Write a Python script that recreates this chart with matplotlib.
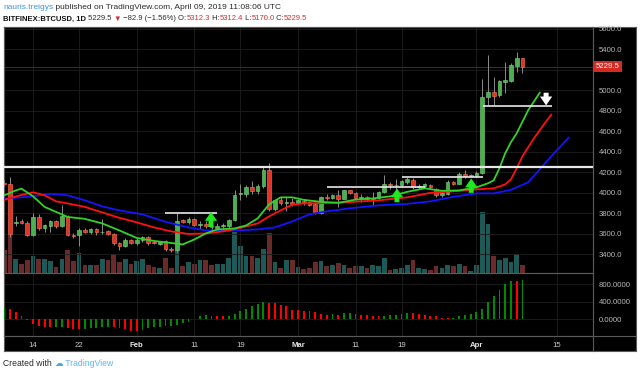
import numpy as np
import matplotlib.pyplot as plt
from matplotlib.lines import Line2D

plt.rcParams['font.family'] = ['Liberation Sans', 'DejaVu Sans']

# daily candles, day 0 = Jan 9 2019 ... day 90 = Apr 9 2019
opens = [4092, 4084, 3708, 3722, 3707, 3589, 3760, 3651, 3670, 3722,
         3673, 3762, 3589, 3583, 3638, 3620, 3648, 3612, 3630, 3600,
         3508, 3475, 3535, 3508, 3534, 3566, 3517, 3500, 3525, 3449,
         3436, 3730, 3713, 3746, 3680, 3697, 3674, 3660, 3672, 3676,
         3729, 3985, 3983, 4055, 4013, 4062, 4218, 3837, 3925, 3902,
         3909, 3899, 3918, 3908, 3892, 3800, 3957, 3951, 3974, 3941,
         4022, 4000, 3947, 3955, 3940, 3951, 4006, 4088, 4071, 4078,
         4104, 4127, 4055, 4062, 4071, 4039, 3974, 3990, 4104, 4088,
         4180, 4166, 4162, 4196, 4929, 4983, 4951, 5081, 5088, 5234,
         5312.3]
highs = [4120, 4150, 3775, 3740, 3720, 3805, 3790, 3697, 3730, 3735,
         3880, 3780, 3610, 3660, 3660, 3660, 3660, 3746, 3640, 3610,
         3520, 3560, 3550, 3560, 3580, 3575, 3530, 3530, 3535, 3465,
         3805, 3745, 3760, 3755, 3720, 3720, 3690, 3700, 3700, 3745,
         4030, 4088, 4070, 4110, 4080, 4258, 4290, 3940, 3960, 3960,
         3950, 3940, 3935, 3920, 3910, 3965, 3990, 3990, 4022, 4030,
         4030, 4010, 3985, 3965, 4010, 4020, 4169, 4100, 4130, 4125,
         4150, 4140, 4085, 4095, 4085, 4050, 4010, 4120, 4115, 4200,
         4225, 4185, 4215, 5107, 5342, 5124, 5100, 5276, 5260, 5374,
         5312.4]
lows = [4060, 3570, 3670, 3690, 3575, 3580, 3640, 3615, 3615, 3660,
        3665, 3575, 3560, 3475, 3605, 3600, 3590, 3600, 3590, 3490,
        3436, 3465, 3495, 3490, 3520, 3490, 3495, 3490, 3430, 3425,
        3425, 3700, 3690, 3670, 3650, 3660, 3640, 3650, 3660, 3660,
        3720, 3925, 3960, 3990, 3990, 4050, 3820, 3820, 3880, 3820,
        3870, 3885, 3880, 3870, 3790, 3790, 3930, 3935, 3859, 3935,
        3985, 3930, 3910, 3920, 3880, 3940, 3995, 4040, 4030, 4060,
        4080, 4040, 4040, 4050, 4040, 3960, 3955, 3980, 4075, 4080,
        4140, 4150, 4150, 4185, 4853, 4853, 4935, 4968, 5080, 5180,
        5170.0]
closes = [4084, 3592, 3716, 3705, 3589, 3758, 3658, 3680, 3722, 3671,
          3773, 3589, 3576, 3638, 3619, 3648, 3612, 3620, 3600, 3508,
          3475, 3535, 3508, 3542, 3566, 3508, 3508, 3520, 3449, 3436,
          3722, 3713, 3746, 3680, 3697, 3674, 3662, 3672, 3684, 3736,
          3980, 3992, 4055, 4016, 4065, 4218, 3837, 3925, 3902, 3905,
          3890, 3925, 3905, 3883, 3805, 3957, 3950, 3974, 3941, 4022,
          4000, 3947, 3955, 3940, 3945, 4006, 4088, 4071, 4075, 4110,
          4137, 4055, 4062, 4081, 4055, 3974, 3996, 4104, 4088, 4186,
          4166, 4172, 4196, 4929, 4983, 4944, 5088, 5097, 5244, 5318,
          5229.5]
# volume, thousand BTC
volume = [22, 38, 13.7, 8.7, 12.7, 16, 13.7, 13.7, 11, 5,
          13.7, 22, 11, 19.3, 7.7, 7.7, 7, 13.7, 12, 18.7,
          10.3, 13, 8.7, 11, 13, 7.7, 5, 4.3, 14.3, 4.7,
          22, 6, 10.3, 8.7, 12, 12, 7, 8, 8, 14.7,
          40.3, 26.3, 16, 16, 14.7, 23, 39.3, 10.3, 4.7, 12,
          12, 5.3, 3.7, 4.7, 10.3, 11, 6, 7, 9.3, 7,
          4.7, 6, 6.3, 4.7, 7, 6, 14.3, 2, 3, 4.7,
          7.7, 12, 4.3, 3.7, 2, 6, 4.3, 7.7, 6, 8.7,
          6, 1, 7, 60.3, 48.7, 16, 12, 14.7, 10.3, 18.7,
          7.7]
# awesome oscillator
ao = [254, 231, 162, 77, -8, -108, -154, -169, -185, -177,
      -169, -193, -216, -231, -223, -208, -193, -185, -177, -185,
      -208, -231, -262, -270, -246, -208, -185, -177, -162, -146,
      -123, -92, -54, 8, 62, 85, 77, 70, 62, 77,
      123, 177, 231, 293, 347, 385, 380, 370, 331, 308,
      216, 200, 192, 177, 162, 115, 100, 115, 100, 139,
      146, 123, 100, 85, 77, 62, 69, 85, 100, 115,
      139, 131, 115, 100, 77, 62, 38, 31, 38, 62,
      85, 115, 154, 239, 385, 524, 662, 816, 886, 880,
      909]

# alligator lines (day, price)
lips_days = [0, 2, 3, 5, 7, 9, 11, 14, 17, 20, 23, 26, 29, 31, 33, 35, 37, 40, 42,
             44, 46, 48, 50, 52, 55, 58, 61, 64, 67, 70, 73, 76, 79, 82, 84, 85,
             86, 87, 88, 89, 91, 93]
lips = [3974, 4022, 4039, 3964, 3861, 3812, 3763, 3744, 3700, 3631, 3558, 3529,
        3509, 3495, 3543, 3602, 3641, 3651, 3680, 3749, 3886, 3954, 3954, 3930,
        3910, 3900, 3932, 3944, 3964, 4008, 4042, 4018, 4022, 4052, 4091, 4120,
        4238, 4384, 4492, 4580, 4805, 4975]
teeth_days = [0, 3, 5, 7, 9, 11, 14, 17, 20, 23, 26, 29, 32, 35, 38, 41, 44, 46,
              48, 50, 52, 55, 60, 65, 70, 74, 78, 82, 85, 87, 88, 89, 90, 92, 94, 95]
teeth = [3930, 3978, 4003, 3974, 3915, 3895, 3861, 3807, 3754, 3710, 3661, 3622,
         3597, 3602, 3622, 3656, 3700, 3768, 3827, 3881, 3895, 3898, 3908, 3925,
         3954, 3998, 4013, 4032, 4042, 4081, 4130, 4238, 4355, 4531, 4687, 4760]
jaw_days = [0, 4, 8, 11, 14, 17, 20, 24, 28, 32, 35, 40, 44, 47, 50, 53, 56, 60,
            65, 70, 74, 78, 82, 85, 88, 91, 93, 95, 98]
jaw = [3941, 3959, 3988, 3974, 3925, 3866, 3827, 3788, 3715, 3661, 3631, 3631,
       3641, 3661, 3719, 3788, 3817, 3847, 3876, 3891, 3915, 3959, 3993, 3993,
       4027, 4101, 4228, 4355, 4536]

date_ticks = [5, 13, 23, 33, 41, 51, 61, 69, 82, 96]
date_labels = ['14', '22', 'Feb', '11', '19', 'Mar', '11', '19', 'Apr', '15']
price_ticks = list(range(3400, 5601, 200))
ao_ticks = [0, 400, 800]
last_price = 5229.5

# drawn levels (start day, end day, price) and arrows (day, tail, head)
levels = [(0, 102.3, 4255), (27.9, 36.9, 3804), (56.1, 73.1, 4052),
          (69.0, 83.1, 4152), (83.1, 95.2, 4844)]
up_arrows = [(35.9, 3664, 3812), (68.2, 3906, 4041), (81.1, 3998, 4139)]
down_arrows = [(94.1, 4975, 4851)]

W, H = 640, 374
fig = plt.figure(figsize=(W / 100, H / 100), dpi=100, facecolor='white')

def rect(x0, y0, x1, y1):
    return [x0 / W, 1 - y1 / H, (x1 - x0) / W, (y1 - y0) / H]

bg = fig.add_axes(rect(4, 27, 636, 351))
bg.set_facecolor('black')
bg.set_xticks([])
bg.set_yticks([])
for s in bg.spines.values():
    s.set_color('#5a5a5a')
    s.set_linewidth(0.8)

days = np.arange(len(closes))
o = np.array(opens)
c = np.array(closes)
up = c >= o

ax_v = fig.add_axes(rect(4, 27, 593.3, 272.5))
ax = fig.add_axes(rect(4, 27, 593.3, 272.5), sharex=ax_v)
ax_ao = fig.add_axes(rect(4, 272.5, 593.3, 335.5), sharex=ax_v)
ax_v.set_zorder(1)
ax.set_zorder(2)
ax_ao.set_zorder(2)
ax_v.axis('off')
ax.patch.set_alpha(0)
ax_ao.patch.set_alpha(0)

# volume
ax_v.bar(days, volume, width=0.82, color=np.where(up, '#1d5a57', '#6a2a2a'))
ax_v.set_ylim(0, 245)

# candles
ax.vlines(days, lows, highs, color='#8c8c8c', lw=0.7, zorder=3)
body = np.maximum(np.abs(c - o), 7)
ax.bar(days, body, bottom=np.minimum(o, c), width=0.64,
       color=np.where(up, '#4caf50', '#e0342a'),
       edgecolor=np.where(up, '#7ad87a', '#ff7a50'), lw=0.4, zorder=4)

ax.axhline(last_price, color='#7a1616', lw=0.7, zorder=2)

ax.plot(jaw_days, jaw, color='#1414ff', lw=1.3, zorder=5)
ax.plot(teeth_days, teeth, color='#ff1010', lw=1.3, zorder=5)
ax.plot(lips_days, lips, color='#32d226', lw=1.3, zorder=5)

for i, (d0, d1, p) in enumerate(levels):
    ax.plot([d0, d1], [p, p], color='#e8e8e8', lw=1.6 if i == 0 else 1.2,
            zorder=6, solid_capstyle='butt')

arrow_style = 'simple,head_length=0.8,head_width=1.1,tail_width=0.45'
for d, tail, head in up_arrows:
    ax.annotate('', xy=(d, head), xytext=(d, tail), zorder=7,
                arrowprops=dict(arrowstyle=arrow_style, fc='#1ee81e', ec='none',
                                shrinkA=0, shrinkB=0, mutation_scale=8))
for d, tail, head in down_arrows:
    ax.annotate('', xy=(d, head), xytext=(d, tail), zorder=7,
                arrowprops=dict(arrowstyle=arrow_style, fc='white', ec='none',
                                shrinkA=0, shrinkB=0, mutation_scale=8))

ax.set_ylim(3221, 5616)
ax.set_xlim(-0.05, 102.3)
ax.yaxis.tick_right()
ax.set_yticks(price_ticks)
# the 5200 label sits under the last-price box
ax.set_yticklabels(['' if abs(p - last_price) < 60 else f'{p:.1f}' for p in price_ticks])
ax.set_xticks(date_ticks)
ax.tick_params(axis='x', labelbottom=False, length=0)
ax.tick_params(axis='y', length=0, pad=4, labelsize=5.6, labelcolor='#b8b8b8')
ax.grid(color='#1f1f1f', lw=0.6)
ax.set_axisbelow(True)

ax.text(1.004, last_price, f'{last_price:.1f}', transform=ax.get_yaxis_transform(),
        color='white', fontsize=5.6, va='center', ha='left', zorder=10, clip_on=False,
        bbox=dict(boxstyle='square,pad=0.28', fc='#d42a22', ec='none'))

# awesome oscillator
ao_arr = np.array(ao)
rising = np.r_[True, ao_arr[1:] >= ao_arr[:-1]]
ax_ao.bar(days, ao, width=0.32, color=np.where(rising, '#008a00', '#ff0000'), zorder=3)
ax_ao.set_ylim(-374, 1070)
ax_ao.yaxis.tick_right()
ax_ao.set_yticks(ao_ticks)
ax_ao.set_yticklabels([f'{v:.4f}' for v in ao_ticks])
ax_ao.set_xticks(date_ticks)
ax_ao.set_xticklabels(date_labels)
ax_ao.tick_params(axis='y', length=0, pad=4, labelsize=5.6, labelcolor='#b8b8b8')
ax_ao.tick_params(axis='x', length=0, pad=5, labelsize=5.6, labelcolor='#c8c8c8')
for lbl in ax_ao.get_xticklabels():
    if lbl.get_text() in ('Feb', 'Mar', 'Apr'):
        lbl.set_fontweight('bold')
        lbl.set_color('#e8e8e8')
ax_ao.grid(color='#1f1f1f', lw=0.6)
ax_ao.set_axisbelow(True)
ax_ao.set_xlim(-0.05, 102.3)

for a in (ax, ax_ao):
    for s in a.spines.values():
        s.set_color('#5a5a5a')
        s.set_linewidth(0.8)

# right price-scale border through the date strip
fig.add_artist(Line2D([593.3 / W, 593.3 / W], [1 - 351 / H, 1 - 27 / H],
                      color='#5a5a5a', lw=0.8))
fig.add_artist(Line2D([4 / W, 636 / W], [1 - 335.5 / H, 1 - 335.5 / H],
                      color='#5a5a5a', lw=0.8))


def chain(x, y, parts, size):
    t = fig.text(x, y, parts[0][0], color=parts[0][1], fontweight=parts[0][2],
                 fontsize=size, va='bottom', ha='left')
    for s, col, wt in parts[1:]:
        t = bg.annotate(s, xy=(1, 0), xycoords=t, va='bottom', ha='left',
                        color=col, fontweight=wt, fontsize=size, annotation_clip=False)


dark = '#2b2b2b'
red = '#d32f2f'
chain(3 / W, 1 - 11 / H, [('nauris.treigys', '#3f95dc', 'normal'),
                          (' published on TradingView.com, April 09, 2019 11:08:06 UTC', dark, 'normal')], 6.05)
chain(3 / W, 1 - 22.5 / H, [('BITFINEX:BTCUSD, 1D', '#111111', 'bold'),
                            (' 5229.5 ', dark, 'normal'), ('▼', red, 'normal'),
                            (' −82.9 (−1.56%) O:', dark, 'normal'), ('5312.3', red, 'normal'),
                            (' H:', dark, 'normal'), ('5312.4', red, 'normal'),
                            (' L:', dark, 'normal'), ('5170.0', red, 'normal'),
                            (' C:', dark, 'normal'), ('5229.5', red, 'normal')], 5.5)
chain(3 / W, 1 - 368 / H, [('Created with ', dark, 'normal'), ('☁', '#4aa6e6', 'normal'),
                           (' TradingView', '#5cb6ee', 'normal')], 6.2)

fig.savefig('out.png', dpi=100, facecolor='white')
